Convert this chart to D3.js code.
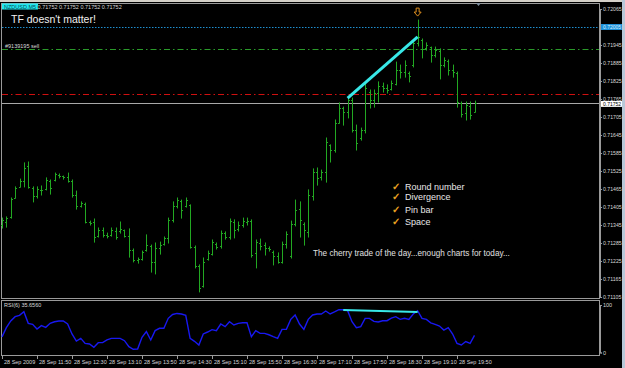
<!DOCTYPE html>
<html>
<head>
<meta charset="utf-8">
<title>nzdusd m5</title>
<script src="https://cdn.jsdelivr.net/npm/d3@7/dist/d3.min.js"></script>
<style>
  body { margin: 0; background: #000; overflow: hidden; }
  svg text { font-family: "Liberation Sans", Arial, sans-serif; }
</style>
</head>
<body>
<svg id="chart" width="625" height="368"></svg>
<script>
// 5-minute bars, 11:10 .. 20:10
const open = [0.71345,0.71355,0.71372,0.71435,0.71472,0.71492,0.71542,0.71468,0.71442,0.71462,
  0.71465,0.71492,0.71495,0.71512,0.71508,0.71505,0.71492,0.71445,0.71408,0.71415,
  0.71355,0.71355,0.71308,0.71328,0.71312,0.71312,0.71325,0.71325,0.71328,0.71308,
  0.71262,0.71228,0.71232,0.71262,0.71275,0.71222,0.71268,0.71282,0.71302,0.71362,
  0.71408,0.71425,0.71408,0.71412,0.71272,0.71208,0.71142,0.71232,0.71248,0.71282,
  0.71275,0.71318,0.71305,0.71355,0.71332,0.71345,0.71355,0.71358,0.71252,0.71285,
  0.71278,0.71268,0.71255,0.71242,0.71222,0.71282,0.71242,0.71348,0.71398,0.71348,
  0.71322,0.71442,0.71522,0.71505,0.71522,0.71612,0.71595,0.71685,0.71735,0.71722,
  0.71762,0.71662,0.71635,0.71662,0.71788,0.71762,0.71785,0.71808,0.71802,0.71798,
  0.71815,0.71862,0.71855,0.71852,0.71878,0.71952,0.71962,0.71935,0.71938,0.71912,
  0.71925,0.71878,0.71892,0.71862,0.71852,0.71752,0.71718,0.71742,0.71722];
const high = [0.71368,0.71372,0.71435,0.71472,0.71498,0.71552,0.71555,0.71472,0.71472,0.71475,
  0.71502,0.71495,0.71518,0.71515,0.71508,0.71518,0.71495,0.71458,0.71422,0.71418,
  0.71358,0.71365,0.71335,0.71335,0.71318,0.71335,0.71335,0.71355,0.71328,0.71332,
  0.71265,0.71235,0.71258,0.71312,0.71278,0.71285,0.71288,0.71305,0.71368,0.71422,
  0.71435,0.71428,0.71435,0.71412,0.71275,0.71212,0.71235,0.71258,0.71295,0.71285,
  0.71325,0.71322,0.71365,0.71362,0.71355,0.71368,0.71368,0.71362,0.71295,0.71298,
  0.71285,0.71272,0.71258,0.71252,0.71288,0.71322,0.71358,0.71428,0.71422,0.71352,
  0.71462,0.71532,0.71535,0.71528,0.71635,0.71612,0.71695,0.71752,0.71738,0.71768,
  0.71768,0.71678,0.71668,0.71818,0.71795,0.71795,0.71822,0.71818,0.71812,0.71825,
  0.71888,0.71878,0.71892,0.71855,0.71962,0.72028,0.71965,0.71952,0.71938,0.71938,
  0.71932,0.71902,0.71895,0.71878,0.71855,0.71755,0.71755,0.71755,0.71758];
const low = [0.71335,0.71338,0.71368,0.71435,0.71472,0.71472,0.71468,0.71422,0.71435,0.71445,
  0.71462,0.71448,0.71492,0.71502,0.71498,0.71488,0.71438,0.71398,0.71405,0.71352,
  0.71345,0.71288,0.71305,0.71305,0.71302,0.71308,0.71298,0.71318,0.71305,0.71238,
  0.71222,0.71218,0.71228,0.71258,0.71188,0.71182,0.71248,0.71278,0.71285,0.71355,
  0.71402,0.71368,0.71405,0.71268,0.71202,0.71122,0.71138,0.71228,0.71245,0.71265,
  0.71268,0.71298,0.71298,0.71302,0.71325,0.71338,0.71345,0.71238,0.71202,0.71262,
  0.71245,0.71258,0.71212,0.71218,0.71218,0.71268,0.71235,0.71342,0.71305,0.71278,
  0.71305,0.71428,0.71478,0.71495,0.71488,0.71555,0.71588,0.71685,0.71678,0.71702,
  0.71655,0.71595,0.71628,0.71652,0.71735,0.71738,0.71755,0.71788,0.71785,0.71795,
  0.71812,0.71835,0.71838,0.71822,0.71872,0.71942,0.71902,0.71928,0.71888,0.71905,
  0.71832,0.71872,0.71845,0.71838,0.71738,0.71705,0.71695,0.71698,0.71722];
const close = [0.71362,0.71368,0.71432,0.71468,0.71492,0.71535,0.71472,0.71442,0.71465,0.71460,
  0.71495,0.71468,0.71515,0.71508,0.71505,0.71492,0.71445,0.71408,0.71418,0.71355,
  0.71352,0.71305,0.71328,0.71312,0.71308,0.71328,0.71305,0.71332,0.71308,0.71262,
  0.71228,0.71232,0.71255,0.71278,0.71222,0.71268,0.71278,0.71302,0.71362,0.71408,
  0.71428,0.71395,0.71428,0.71272,0.71208,0.71135,0.71222,0.71252,0.71288,0.71272,
  0.71318,0.71305,0.71358,0.71328,0.71345,0.71358,0.71358,0.71245,0.71288,0.71275,
  0.71268,0.71265,0.71242,0.71222,0.71282,0.71315,0.71348,0.71395,0.71362,0.71328,
  0.71445,0.71522,0.71502,0.71522,0.71622,0.71595,0.71685,0.71735,0.71722,0.71762,
  0.71662,0.71618,0.71662,0.71802,0.71762,0.71785,0.71808,0.71802,0.71795,0.71818,
  0.71862,0.71855,0.71878,0.71842,0.71952,0.71972,0.71932,0.71945,0.71912,0.71928,
  0.71878,0.71895,0.71862,0.71855,0.71755,0.71715,0.71745,0.71712,0.71752];
const rsi = [33,50.6,63.5,71.8,74.4,81.4,59,57,48,54.5,
  51.3,59,62,63.5,63.5,57.7,38.5,25,30,20.5,
  19.2,12.8,21.8,21.8,27,30,30,30,25.6,14,
  9,9.6,32,43,27,45,49.4,49.4,68.6,76,
  78,77,74.4,30,24.4,17.3,38.5,42.3,46.8,44.9,
  57.7,52.6,62,55.8,59,60,60,33.3,45,39.7,
  39.7,37,33.3,30,47.4,47.4,66.6,75,57.7,47.4,
  66.6,75,77,77,82.7,77,80.8,85.3,85,83.3,
  62,50.6,52.6,68.6,68.6,62.8,61.5,64,64,69,
  71.8,66.6,68.6,66.6,77,83.3,68.6,66.6,60,57,
  53.8,46,50.6,38.5,20.5,17.3,24,20.5,35.656];

const priceTicks = d3.range(17).map(i => +(0.71105 + i * 0.0006).toFixed(5));
const timeLabels = ["28 Sep 2009","28 Sep 11:50","28 Sep 12:30","28 Sep 13:10","28 Sep 13:50",
  "28 Sep 14:30","28 Sep 15:10","28 Sep 15:50","28 Sep 16:30","28 Sep 17:10",
  "28 Sep 17:50","28 Sep 18:30","28 Sep 19:10","28 Sep 19:50"];
const checklist = ["Round number", "Divergence", "Pin bar", "Space"];

const roundLevel = 0.72005, orderLevel = 0.71932, redLevel = 0.71782, bid = 0.71752;

const svg = d3.select("#chart");
const W = 625, H = 368;

svg.append("rect").attr("width", W).attr("height", H).attr("fill", "#000");
// window chrome bits
svg.append("rect").attr("x", 0).attr("y", 0).attr("width", W).attr("height", 2).attr("fill", "#d4d0c8");
svg.append("rect").attr("x", 622).attr("y", 0).attr("width", 3).attr("height", H).attr("fill", "#b8c8d8");

const x = d3.scaleLinear().domain([0, 108]).range([2, 474.5]);
const y = d3.scaleLinear().domain([0.71105, 0.72065]).range([297, 9]);
const yR = d3.scaleLinear().domain([0, 100]).range([354, 302]);

// frames
svg.append("rect").attr("x", 1.5).attr("y", 3.5).attr("width", 598).attr("height", 295)
  .attr("fill", "none").attr("stroke", "#9a9a9a");
svg.append("rect").attr("x", 1.5).attr("y", 300.5).attr("width", 598).attr("height", 55)
  .attr("fill", "none").attr("stroke", "#9a9a9a");

// horizontal levels
function hline(p, color, dash, w) {
  svg.append("line").attr("x1", 2).attr("x2", 599).attr("y1", Math.round(y(p)) + 0.5).attr("y2", Math.round(y(p)) + 0.5)
    .attr("stroke", color).attr("stroke-width", w || 1).attr("stroke-dasharray", dash);
}
hline(roundLevel, "#1e8fd0", "1.5,1.5");
hline(orderLevel, "#2a9a2a", "6,3,1.5,3");
hline(redLevel, "#d01010", "6,3,1.5,3");
hline(bid, "#a8a8a8", null);

svg.append("text").attr("x", 5).attr("y", 47.5).attr("fill", "#d8d8d8")
  .attr("font-size", "5.5px").text("#9139195 sell");

// bars
const idx = d3.range(open.length);
const bars = svg.append("g").attr("stroke", "#22a822").attr("stroke-width", 1);
idx.forEach(i => {
  const cx = Math.round(x(i)) + 0.5;
  bars.append("line").attr("x1", cx).attr("x2", cx).attr("y1", y(high[i]) - 0.5).attr("y2", y(low[i]) + 0.5);
  bars.append("line").attr("x1", cx - 1.5).attr("x2", cx).attr("y1", Math.round(y(open[i])) + 0.5).attr("y2", Math.round(y(open[i])) + 0.5);
  bars.append("line").attr("x1", cx).attr("x2", cx + 1.5).attr("y1", Math.round(y(close[i])) + 0.5).attr("y2", Math.round(y(close[i])) + 0.5);
});

// trend line on price
svg.append("line").attr("x1", x(79)).attr("y1", y(high[79])).attr("x2", x(95)).attr("y2", y(close[95]))
  .attr("stroke", "#38e8e8").attr("stroke-width", 3);

// sell arrow above pin bar
const ax = x(95), ay = y(high[95]) - 12;
svg.append("path")
  .attr("d", `M${ax - 1.5},${ay} L${ax + 1.5},${ay} L${ax + 1.5},${ay + 4} L${ax + 3.5},${ay + 4} L${ax},${ay + 8} L${ax - 3.5},${ay + 4} L${ax - 1.5},${ay + 4} Z`)
  .attr("fill", "none").attr("stroke", "#e09020").attr("stroke-width", 1);

// price axis (the 0.72005 tick is shown by the line's own tag)
const yAxis = svg.append("g").attr("transform", "translate(600,0)")
  .call(d3.axisRight(y).tickValues(priceTicks.filter(p => p !== roundLevel)).tickSize(2).tickPadding(1).tickFormat(d3.format(".5f")));
yAxis.select(".domain").attr("stroke", "#9a9a9a");
yAxis.selectAll(".tick line").attr("stroke", "#9a9a9a");
yAxis.selectAll(".tick text").attr("fill", "#d8d8d8").attr("font-size", "5.2px").attr("font-family", "Liberation Sans, Arial, sans-serif");

function axisTag(p, bg, fg, dy) {
  const ty = y(p) + dy;
  svg.append("rect").attr("x", 601).attr("y", ty - 3).attr("width", 21).attr("height", 6).attr("fill", bg);
  svg.append("text").attr("x", 603).attr("y", ty + 2).attr("fill", fg).attr("font-size", "5px").text(d3.format(".5f")(p));
}
axisTag(roundLevel, "#1e90d8", "#d8f0ff", 0);
axisTag(bid, "#ffffff", "#000", 1);

// header: symbol line, first part covered by a cyan box
const header = "NZDUSD,M5 0.71752 0.71752 0.71752 0.71752";
svg.append("defs").append("clipPath").attr("id", "hdrclip")
  .append("rect").attr("x", 2).attr("y", 3.5).attr("width", 36).attr("height", 6);
svg.append("text").attr("x", 4).attr("y", 9).attr("fill", "#d8d8d8").attr("font-size", "5.5px").text(header);
svg.append("rect").attr("x", 2).attr("y", 3.5).attr("width", 36).attr("height", 6).attr("fill", "#20e8f0");
svg.append("text").attr("x", 4).attr("y", 9).attr("fill", "#0a4850").attr("font-size", "5.5px")
  .attr("clip-path", "url(#hdrclip)").text(header);
svg.append("path").attr("d", "M476,3 L481,3 L478.5,6 Z").attr("fill", "#8090a0");

svg.append("text").attr("x", 11).attr("y", 23).attr("fill", "#f0f0f0").attr("font-size", "10.5px")
  .text("TF doesn't matter!");

// checklist
const listY = [186, 196, 209.5, 221];
checklist.forEach((t, i) => {
  svg.append("text").attr("x", 392).attr("y", listY[i] + 3.5).attr("fill", "#e8a020")
    .attr("font-size", "10px").attr("font-weight", "bold").attr("font-family", "DejaVu Sans, sans-serif").text("\u2713");
  svg.append("text").attr("x", 405).attr("y", listY[i] + 3.5).attr("fill", "#e8e8e8")
    .attr("font-size", "9px").text(t);
});
svg.append("text").attr("x", 313).attr("y", 256).attr("fill", "#e0e0e0").attr("font-size", "8.2px")
  .text("The cherry trade of the day...enough charts for today...");

// RSI window
const rsiLine = d3.line().x((d, i) => x(i)).y(d => yR(d));
svg.append("path").datum(rsi).attr("d", rsiLine).attr("fill", "none")
  .attr("stroke", "#1818f0").attr("stroke-width", 1.4);
svg.append("line").attr("x1", x(78)).attr("y1", yR(84.6)).attr("x2", x(95)).attr("y2", yR(80.8))
  .attr("stroke", "#38e8e8").attr("stroke-width", 2);
svg.append("text").attr("x", 4).attr("y", 307).attr("fill", "#d8d8d8").attr("font-size", "5.5px")
  .text("RSI(6) " + rsi[rsi.length - 1].toFixed(4));
const rAxis = svg.append("g").attr("transform", "translate(600,0)")
  .call(d3.axisRight(d3.scaleLinear().domain([0, 100]).range([352.5, 305])).tickValues([0, 100]).tickSize(2).tickPadding(1));
rAxis.select(".domain").attr("stroke", "#9a9a9a");
rAxis.selectAll(".tick line").attr("stroke", "#9a9a9a");
rAxis.selectAll(".tick text").attr("fill", "#d8d8d8").attr("font-size", "5.5px").attr("font-family", "Liberation Sans, Arial, sans-serif");

// time axis
const xAxis = svg.append("g").attr("transform", "translate(0,355)")
  .call(d3.axisBottom(x).tickValues(d3.range(0, 109, 8)).tickSize(4).tickFormat((d, i) => timeLabels[i]));
xAxis.select(".domain").remove();
xAxis.selectAll(".tick line").attr("stroke", "#9a9a9a");
xAxis.selectAll(".tick text").attr("fill", "#d8d8d8").attr("font-size", "5.5px")
  .attr("font-family", "Liberation Sans, Arial, sans-serif").attr("text-anchor", "start").attr("x", 1.5).attr("y", 5).attr("dy", "0.71em");
</script>
</body>
</html>
